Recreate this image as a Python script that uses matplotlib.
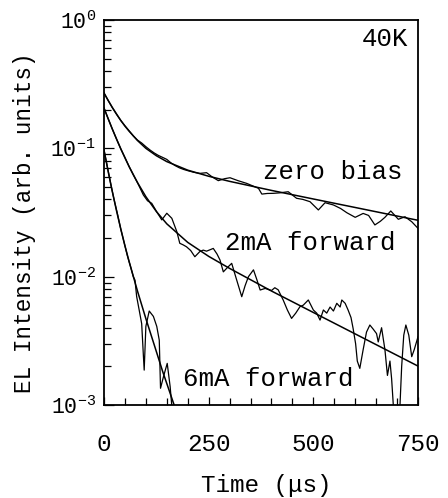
import matplotlib
matplotlib.use("Agg")
import matplotlib.pyplot as plt
from matplotlib.ticker import LogLocator, MultipleLocator, FixedLocator

plt.rcParams['font.family'] = ['Liberation Mono', 'DejaVu Sans Mono']
plt.rcParams['mathtext.default'] = 'regular'

# Fitted decay curves (time in microseconds, intensity in arb. units)
fit_t = [0, 10, 20, 30, 40, 50, 60, 80, 100, 125, 150, 200, 250, 300, 400, 500, 600, 750]
fit_zero = [0.270, 0.236, 0.208, 0.185, 0.165, 0.149, 0.136, 0.115, 0.100, 0.0876,
            0.0788, 0.0676, 0.0606, 0.0553, 0.0470, 0.0403, 0.0346, 0.0275]
fit_2ma = [0.206, 0.170, 0.141, 0.118, 0.0994, 0.0843, 0.0721, 0.0541, 0.0420, 0.0322,
           0.0258, 0.0185, 0.0144, 0.0116, 0.00773, 0.00526, 0.00358, 0.00201]
fit6_t = [0, 10, 20, 30, 40, 50, 60, 80, 100, 120, 140, 160, 180]
fit_6ma = [0.097, 0.0659, 0.0458, 0.0325, 0.0236, 0.0174, 0.0131, 0.00772, 0.00471,
           0.00294, 0.00183, 0.00118, 0.00076]

# Measured EL transients
zero_t = [0, 10, 20, 30, 40, 50, 60, 70, 80, 90, 100, 110, 120, 130, 140, 150, 160, 170,
          180, 190, 200, 215, 229, 245, 258, 273, 288, 301, 320, 341, 355, 369, 377, 390,
          404, 420, 440, 460, 475, 492, 512, 528, 548, 565, 580, 600, 619, 632, 647, 660,
          671, 685, 703, 719, 735, 750]
zero_i = [0.270, 0.236, 0.207, 0.184, 0.165, 0.150, 0.137, 0.125, 0.116, 0.110, 0.103,
          0.097, 0.092, 0.088, 0.085, 0.082, 0.077, 0.0733, 0.0705, 0.0685, 0.0670, 0.0650,
          0.0638, 0.0646, 0.060, 0.056, 0.058, 0.059, 0.056, 0.0533, 0.051, 0.0488, 0.044,
          0.0445, 0.0446, 0.045, 0.0459, 0.0408, 0.040, 0.0384, 0.0331, 0.0377, 0.0362,
          0.034, 0.0315, 0.029, 0.0311, 0.030, 0.0253, 0.027, 0.029, 0.0325, 0.028, 0.0293,
          0.0268, 0.0238]

ma2_t = [0, 10, 20, 30, 40, 50, 60, 70, 80, 94, 104, 114, 126, 138, 150, 162, 174, 181,
         189, 197, 207, 217, 229, 237, 245, 261, 270, 277, 285, 295, 305, 317, 329, 337,
         345, 357, 365, 373, 385, 400, 408, 416, 428, 438, 448, 458, 468, 476, 488, 500,
         508, 516, 524, 532, 540, 548, 556, 564, 568, 576, 583, 590, 595, 601, 605, 611,
         619, 627, 635, 643, 651, 655, 663, 671, 677, 683, 687, 691, 695, 703, 707, 711,
         716, 721, 728, 735, 741, 750]
ma2_i = [0.206, 0.170, 0.141, 0.118, 0.099, 0.085, 0.072, 0.062, 0.054, 0.0433, 0.039,
         0.0373, 0.032, 0.0277, 0.0312, 0.0285, 0.0224, 0.0182, 0.0177, 0.0171, 0.016,
         0.0143, 0.0157, 0.0161, 0.0158, 0.0166, 0.015, 0.0135, 0.0109, 0.0118, 0.0127,
         0.0094, 0.00698, 0.0085, 0.010, 0.0113, 0.0095, 0.00787, 0.0081, 0.0078, 0.0082,
         0.0079, 0.00658, 0.0055, 0.00473, 0.0052, 0.00583, 0.0060, 0.00658, 0.0055, 0.0052,
         0.00459, 0.0055, 0.0052, 0.0058, 0.0054, 0.0062, 0.0058, 0.00658, 0.0062, 0.0055,
         0.0048, 0.00395, 0.0030, 0.0022, 0.00193, 0.0027, 0.0037, 0.0042, 0.0039, 0.0036,
         0.0031, 0.0040, 0.0027, 0.0017, 0.0022, 0.0016, 0.0010, 0.0006, 0.0006, 0.0010,
         0.0020, 0.0035, 0.0042, 0.0035, 0.00238, 0.0027, 0.0034]

ma6_t = [0, 8, 16, 24, 32, 40, 48, 56, 64, 70, 74, 78, 84, 90, 94, 96, 100, 108, 118,
         126, 132, 135, 142, 151, 158, 162, 166]
ma6_i = [0.097, 0.072, 0.053, 0.040, 0.031, 0.0235, 0.0185, 0.0145, 0.0118, 0.0100,
         0.0094, 0.0070, 0.0055, 0.0043, 0.00245, 0.00187, 0.0041, 0.0054, 0.0049, 0.0041,
         0.0032, 0.00135, 0.00166, 0.00211, 0.00139, 0.00098, 0.0007]

x_ticks = [0, 250, 500, 750]
x_ticklabels = ['0', '250', '500', '750']

fig = plt.figure(figsize=(4.48, 4.98), dpi=100)
ax = fig.add_axes([104 / 448, 1 - 405 / 498, 314 / 448, 385 / 498])

for t, v in [(zero_t, zero_i), (ma2_t, ma2_i), (ma6_t, ma6_i)]:
    ax.plot(t, v, color='black', lw=0.9)
for t, v in [(fit_t, fit_zero), (fit_t, fit_2ma), (fit6_t, fit_6ma)]:
    ax.plot(t, v, color='black', lw=1.1)

ax.set_yscale('log')
ax.set_xlim(0, 750)
ax.set_ylim(1e-3, 1)

ax.xaxis.set_major_locator(FixedLocator(x_ticks))
ax.set_xticklabels(x_ticklabels)
ax.xaxis.set_minor_locator(MultipleLocator(50))
ax.yaxis.set_major_locator(LogLocator(base=10, numticks=10))
ax.yaxis.set_minor_locator(LogLocator(base=10, subs=range(2, 10), numticks=10))

ax.tick_params(axis='both', which='both', direction='in', top=False, right=False,
               width=0.9, color='black')
ax.tick_params(axis='x', which='major', length=6, pad=20, labelsize=17.5)
ax.tick_params(axis='x', which='minor', length=5)
ax.tick_params(axis='y', which='major', length=7, pad=6, labelsize=15.5)
ax.tick_params(axis='y', which='minor', length=5)

for s in ax.spines.values():
    s.set_linewidth(1.3)

ax.set_xlabel('Time (\u03bcs)', fontsize=17.5)
ax.xaxis.label.set_va('center')
ax.xaxis.set_label_coords(0.516, -(485 - 405) / 385)
ax.set_ylabel('EL Intensity (arb. units)', fontsize=16.3)
ax.yaxis.label.set_va('center')
ax.yaxis.set_label_coords((25 - 104) / 314, (405 - 223) / 385)

ax.text(0.968, 0.951, '40K', transform=ax.transAxes, ha='right', va='center', fontsize=18.5)
ax.text(0.952, 0.605, 'zero bias', transform=ax.transAxes, ha='right', va='center', fontsize=18.5)
ax.text(0.927, 0.421, '2mA forward', transform=ax.transAxes, ha='right', va='center', fontsize=18.5)
ax.text(0.793, 0.068, '6mA forward', transform=ax.transAxes, ha='right', va='center', fontsize=18.5)

fig.savefig('out.png', dpi=100)
